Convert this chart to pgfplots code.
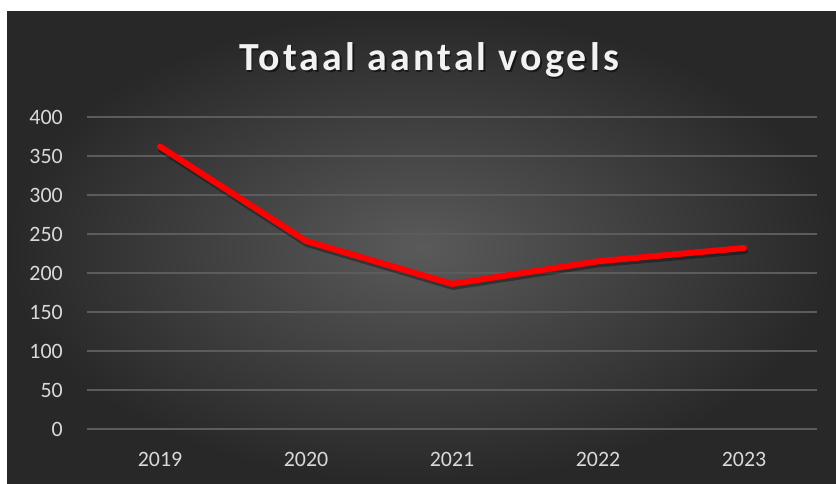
\documentclass[border=0pt]{standalone}
\usepackage{fontspec}
\setmainfont{Carlito}
\usepackage{pgfplots}
\pgfplotsset{compat=1.18}
\definecolor{bgin}{HTML}{5A5A5A}
\definecolor{bgout}{HTML}{282828}
\definecolor{gridc}{HTML}{5C5C5C}
\definecolor{tickc}{HTML}{D9D9D9}
\definecolor{titlec}{HTML}{F2F2F2}

\begin{document}
\begin{tikzpicture}
\useasboundingbox (0,0) rectangle (836bp,484bp);
\fill[white] (0,0) rectangle (836bp,484bp);
\shade[inner color=bgin,outer color=bgout] (7bp,0) rectangle (836bp,472bp);
\begin{axis}[
  at={(87bp,55bp)},anchor=south west,
  scale only axis,width=730bp,height=312bp,
  xmin=-0.5,xmax=4.5,ymin=0,ymax=400,
  ytick={0,50,...,400},
  xtick={0,1,2,3,4},xticklabels={2019,2020,2021,2022,2023},
  axis line style={draw=none},
  ymajorgrids,grid style={gridc,line width=1.3bp},
  major tick length=0pt,
  tick label style={font=\fontsize{22}{22}\selectfont,text=tickc,inner sep=0pt},
  yticklabel style={xshift=-24bp},
  xticklabel style={yshift=-23bp},
  /pgf/number format/assume math mode=true,
  clip=false
]
% shadow of the line
\addplot[black,opacity=0.35,line width=6bp,line cap=round,line join=round,xshift=1bp,yshift=-3bp]
  coordinates {(0,362) (1,241) (2,186) (3,215) (4,232)};
\addplot[red,line width=6bp,line cap=round,line join=round]
  coordinates {(0,362) (1,241) (2,186) (3,215) (4,232)};
\end{axis}
\node[font=\bfseries\fontsize{40}{40}\selectfont\addfontfeatures{LetterSpace=8},text=black,opacity=0.5] at (430.5bp,422.5bp) {Totaal aantal vogels};
\node[font=\bfseries\fontsize{40}{40}\selectfont\addfontfeatures{LetterSpace=8},text=titlec] at (429bp,424bp) {Totaal aantal vogels};
\end{tikzpicture}
\end{document}
